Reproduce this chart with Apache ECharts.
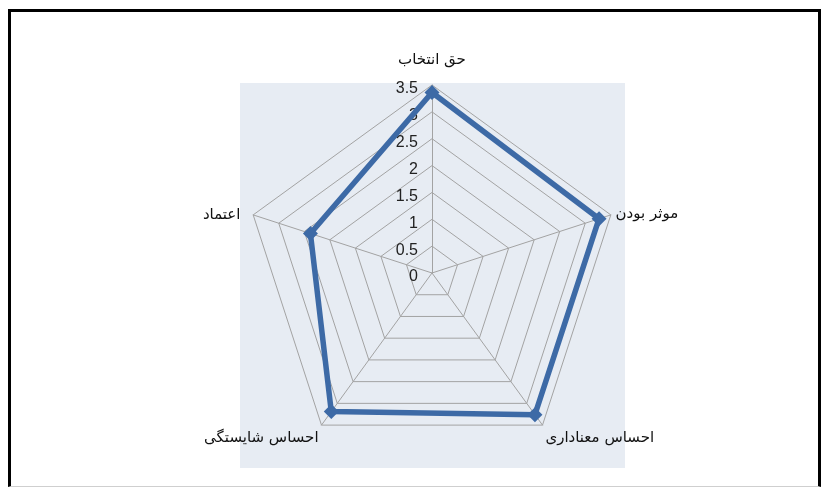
<!DOCTYPE html>
<html>
<head>
<meta charset="utf-8">
<script src="https://cdn.jsdelivr.net/npm/echarts@6/dist/echarts.min.js"></script>
<style>
  html, body { margin: 0; padding: 0; background: #fff; }
  #wrap { position: relative; width: 830px; height: 493px; overflow: hidden; }
  #frame { position: absolute; left: 8px; top: 9px; width: 813px; height: 478px;
           border-left: 3px solid #000; border-top: 3px solid #000; border-right: 3px solid #000;
           border-bottom: 1px solid #cfcfcf; box-sizing: border-box; }
  #chart { position: absolute; left: 0; top: 0; width: 830px; height: 493px; }
</style>
</head>
<body>
<div id="wrap">
  <div id="frame"></div>
  <div id="chart"></div>
</div>
<script>
// Categories in the original (clockwise, Excel) order, starting at the top
const categories = ['حق انتخاب', 'موثر بودن', 'احساس معناداری', 'احساس شایستگی', 'اعتماد'];
const values = [3.36, 3.27, 3.26, 3.19, 2.38];
const axisMax = 3.5;
const tickStep = 0.5;

// ECharts radar lays indicators out counter-clockwise; reorder so the picture reads clockwise
const order = [0, 4, 3, 2, 1];
const indicators = order.map((i, k) => {
  const o = { name: categories[i], max: axisMax, min: 0 };
  if (k === 0) o.axisLabel = { show: true };
  return o;
});
const seriesValues = order.map(i => values[i]);
const nameStyleKey = ['top', 'right', 'br', 'bl', 'left'];

const nameFont = { fontFamily: 'DejaVu Sans', fontSize: 15, color: '#111' };

const chart = echarts.init(document.getElementById('chart'), null, { renderer: 'canvas' });
chart.setOption({
  backgroundColor: 'transparent',
  animation: false,
  graphic: [{
    type: 'rect', z: -10, silent: true,
    shape: { x: 240, y: 83, width: 385, height: 385 },
    style: { fill: '#e7ecf3' }
  }],
  radar: {
    center: [432, 273],
    radius: 188,
    startAngle: 90,
    splitNumber: Math.round(axisMax / tickStep),
    shape: 'polygon',
    indicator: indicators,
    axisName: {
      color: '#111',
      fontFamily: 'DejaVu Sans',
      fontSize: 15,
      formatter: function (name) {
        const idx = categories.indexOf(name);
        return '{' + nameStyleKey[idx] + '|' + name + '}';
      },
      rich: {
        top: Object.assign({ padding: [0, 0, 12, 0] }, nameFont),
        right: Object.assign({ padding: [2, 0, 0, 0] }, nameFont),
        br: Object.assign({ padding: [18, 0, 0, 0] }, nameFont),
        bl: Object.assign({ padding: [18, 0, 0, 0] }, nameFont),
        left: Object.assign({ padding: [4, 8, 0, 0] }, nameFont)
      }
    },
    nameGap: 5,
    axisLine: { lineStyle: { color: '#a3a3a3', width: 1 } },
    splitLine: { lineStyle: { color: '#a3a3a3', width: 1 } },
    splitArea: { show: false },
    axisTick: { show: false },
    axisLabel: {
      show: false,
      color: '#222',
      fontFamily: 'Liberation Sans',
      fontSize: 16,
      margin: 14,
      formatter: '{a|{value}}',
      rich: {
        a: { color: '#222', fontFamily: 'Liberation Sans', fontSize: 16, padding: [8, 0, 0, 0] }
      }
    }
  },
  series: [{
    type: 'radar',
    symbol: 'diamond',
    symbolSize: 15,
    lineStyle: { color: '#3d6aa6', width: 5.5 },
    itemStyle: { color: '#3d6aa6' },
    data: [{ value: seriesValues }]
  }]
});
</script>
</body>
</html>
